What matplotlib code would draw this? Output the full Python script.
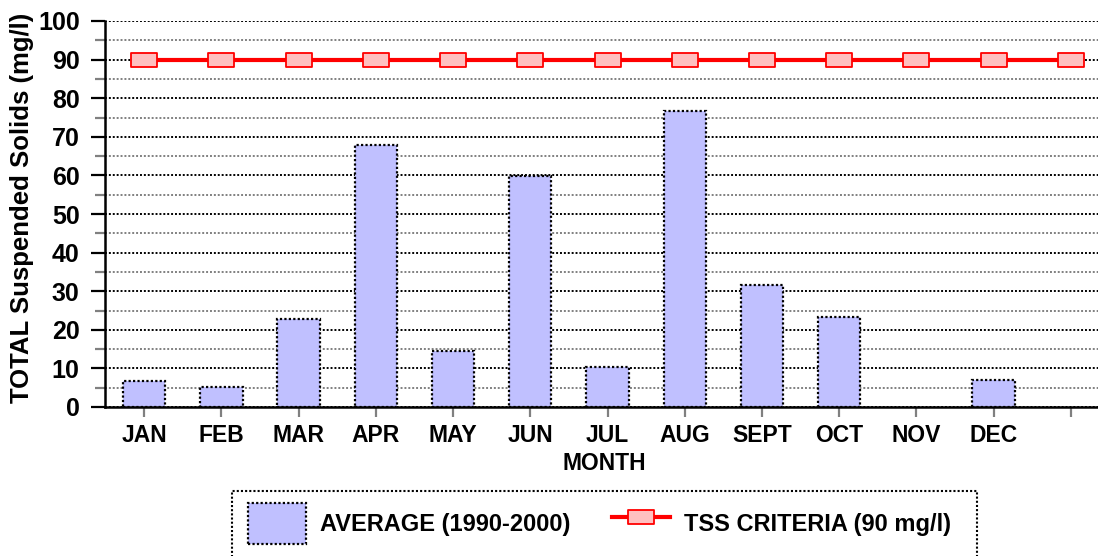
import matplotlib
matplotlib.use("Agg")
import matplotlib.pyplot as plt
from matplotlib.path import Path
from matplotlib.patches import Rectangle
from matplotlib.ticker import MultipleLocator
import numpy as np

# Monthly average total suspended solids, 1990-2000 (mg/l); NOV has no data
months = ["JAN", "FEB", "MAR", "APR", "MAY", "JUN", "JUL", "AUG",
          "SEPT", "OCT", "NOV", "DEC", ""]
average_tss = [6.8, 5.3, 22.9, 67.9, 14.6, 59.8, 10.4, 76.6,
               31.6, 23.4, np.nan, 7.0, np.nan]
tss_criteria = [90] * len(months)

plt.rcParams["font.family"] = ["Liberation Sans", "DejaVu Sans"]
plt.rcParams["font.weight"] = "bold"

W, H = 1098, 556
fig = plt.figure(figsize=(W / 100, H / 100), dpi=100)

def px(x0, y0, x1, y1):
    """Figure-fraction rectangle from pixel coordinates (top-left origin)."""
    return [x0 / W, 1 - y1 / H, (x1 - x0) / W, (y1 - y0) / H]

AX_L, AX_R, AX_T, AX_B = 105.4, 1109.6, 21, 407
ax = fig.add_axes(px(AX_L, AX_T, AX_R, AX_B))
x = np.arange(len(months))

dotted = (0, (1, 1))
bar_color = "#C0C0FF"

bars = ax.bar(x, average_tss, width=0.55, color=bar_color, edgecolor="black",
              linewidth=1.6, linestyle=dotted, zorder=3,
              label="AVERAGE (1990-2000)")

# rectangular marker, wider than tall
rect_marker = Path([(-1, -0.58), (1, -0.58), (1, 0.58), (-1, 0.58), (-1, -0.58)],
                   [Path.MOVETO, Path.LINETO, Path.LINETO, Path.LINETO, Path.CLOSEPOLY])
line, = ax.plot(x, tss_criteria, color="#FF0000", linewidth=3,
                marker=rect_marker, markersize=18.5, markerfacecolor="#FFC0C0",
                markeredgecolor="#FF0000", markeredgewidth=1.3, zorder=4,
                label="TSS CRITERIA (90 mg/l)")

ax.set_xlim(-0.5, len(months) - 0.5)
ax.set_ylim(0, 100)

ax.yaxis.set_major_locator(MultipleLocator(10))
ax.yaxis.set_minor_locator(MultipleLocator(5))
ax.grid(which="major", axis="y", color="black", linewidth=1.4, linestyle=dotted, zorder=1)
ax.grid(which="minor", axis="y", color="#808080", linewidth=1.4, linestyle=dotted, zorder=1)
ax.set_axisbelow(True)

ax.tick_params(axis="y", which="major", direction="out", length=10, width=1.6,
               color="black", labelsize=18, pad=8.5)
ax.tick_params(axis="y", which="minor", direction="out", length=7, width=1.6,
               color="#808080")
ax.set_xticks(x)
ax.set_xticklabels(months)
ax.tick_params(axis="x", which="major", direction="out", length=7.5, width=1.6,
               color="#808080", labelsize=16.5, pad=5)

for side in ("top", "right"):
    ax.spines[side].set_visible(False)
for side in ("left", "bottom"):
    ax.spines[side].set_color("black")
    ax.spines[side].set_linewidth(1.8)
    ax.spines[side].set_linestyle(dotted)
    ax.spines[side].set_zorder(5)

ax.set_ylabel("TOTAL Suspended Solids (mg/l)", fontsize=18.5, fontweight="bold")
ax.yaxis.set_label_coords((34 - AX_L) / (AX_R - AX_L), (407 - 208) / 386)
ax.set_xlabel("MONTH", fontsize=16.5, fontweight="bold")
ax.xaxis.set_label_coords((604 - AX_L) / (AX_R - AX_L), -(463 - 407) / 386)
ax.xaxis.label.set_verticalalignment("center")

# legend frame and entries
frame = Rectangle((232 / W, 1 - 575 / H), (977 - 232) / W, (575 - 491) / H,
                  transform=fig.transFigure, fill=False, edgecolor="black",
                  linewidth=1.5, linestyle=dotted)
fig.patches.append(frame)
leg = fig.legend(handles=[bars, line], loc="upper left",
                 bbox_to_anchor=(248 / W, 1 - 503 / H), ncol=2, frameon=False,
                 borderpad=0, borderaxespad=0, handlelength=2.45, handleheight=2.3,
                 handletextpad=0.6, columnspacing=1.75,
                 prop={"size": 17, "weight": "bold"})

fig.savefig("out.png", dpi=100)
